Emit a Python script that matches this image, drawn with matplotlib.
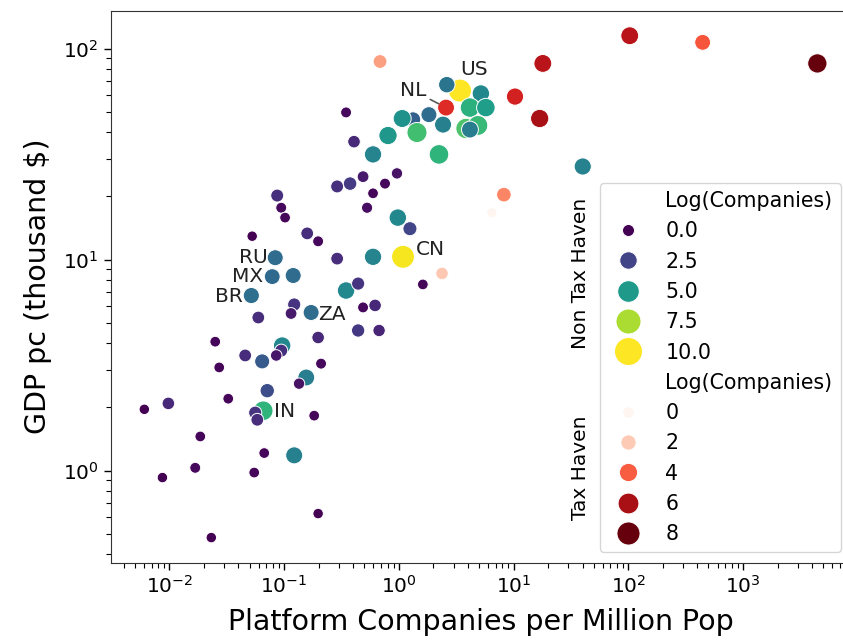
import numpy as np
import matplotlib
matplotlib.use('Agg')
import matplotlib.pyplot as plt
from matplotlib.lines import Line2D
from matplotlib.colors import Normalize

# non tax haven countries: platform companies per million pop, gdp pc, log(companies)
nth_x = [3.41, 2.62, 5.19, 4.17, 5.74, 1.83, 1.33, 1.07, 2.43, 1.44, 3.85, 4.89, 4.17,
         0.805, 0.596, 2.24, 40.1, 0.98, 1.25,
         0.347, 0.407, 0.488, 0.964, 0.758, 0.596, 0.529, 0.290, 0.376, 0.0871, 0.0944,
         0.102, 0.0527, 0.159, 0.198,
         0.0837, 0.0788, 0.120, 0.0518, 0.290, 0.596, 1.088, 1.62, 0.347, 0.442, 0.1225,
         0.115, 0.172, 0.488, 0.621, 0.0596, 0.442, 0.673, 0.0251, 0.198,
         0.0962, 0.0944, 0.0854, 0.0458, 0.0644, 0.0272, 0.210, 0.156, 0.135, 0.0713,
         0.0326, 0.0098, 0.00605, 0.0658, 0.0560, 0.0584, 0.183, 0.0186, 0.0671, 0.1225,
         0.0168, 0.0087, 0.0549, 0.198, 0.0232]
nth_y = [63.2, 67.4, 61.2, 52.5, 52.5, 48.6, 46.1, 46.6, 43.6, 40.0, 41.8, 43.2, 41.3,
         38.7, 31.5, 31.5, 27.6, 15.8, 14.0,
         49.8, 36.2, 24.7, 25.6, 22.9, 20.6, 17.6, 22.2, 22.9, 20.1, 17.6,
         15.8, 12.9, 13.3, 12.2,
         10.2, 8.30, 8.40, 6.75, 10.1, 10.3, 10.3, 7.62, 7.13, 7.69, 6.12,
         5.55, 5.61, 5.93, 6.06, 5.31, 4.61, 4.61, 4.08, 4.27,
         3.91, 3.70, 3.51, 3.51, 3.29, 3.08, 3.21, 2.76, 2.58, 2.39,
         2.19, 2.08, 1.95, 1.92, 1.88, 1.74, 1.82, 1.45, 1.21, 1.18,
         1.03, 0.926, 0.978, 0.625, 0.481]
nth_log = [8.46, 3.86, 4.47, 5.77, 5.16, 3.60, 3.25, 4.81, 4.21, 6.20, 6.38, 6.03, 4.12,
           4.99, 4.38, 5.86, 4.29, 4.47, 2.56,
           1.17, 1.87, 1.52, 1.35, 1.17, 1.09, 1.26, 2.04, 2.30, 2.04, 1.17,
           1.09, 1.00, 1.95, 1.17,
           3.60, 3.51, 3.60, 3.69, 1.95, 4.38, 8.37, 1.09, 4.47, 2.13, 2.13,
           1.52, 3.60, 1.17, 1.87, 1.95, 2.21, 1.78, 1.09, 1.87,
           4.47, 2.04, 1.43, 1.95, 3.08, 1.09, 1.17, 4.12, 1.35, 2.73,
           1.09, 1.87, 1.00, 5.86, 2.13, 1.95, 1.09, 1.09, 1.09, 4.21,
           1.17, 1.00, 1.09, 1.00, 1.00]
nth_code = {0: 'US', 34: 'RU', 35: 'MX', 37: 'BR', 40: 'CN', 46: 'ZA', 67: 'IN'}

# tax havens
th_x = [0.686, 2.58, 18.0, 10.3, 16.9, 103, 445, 4450, 8.24, 6.47, 2.38]
th_y = [86.8, 52.5, 85.0, 59.2, 46.6, 115, 107, 85.0, 20.3, 16.7, 8.59]
th_log = [2.80, 4.88, 5.63, 5.13, 5.96, 5.63, 4.13, 6.80, 3.30, 0.80, 2.05]
th_code = {1: 'NL'}

nth_leg = [0.0, 2.5, 5.0, 7.5, 10.0]
nth_leg_txt = ['0.0', '2.5', '5.0', '7.5', '10.0']
th_leg = [0, 2, 4, 6, 8]
th_leg_txt = ['0', '2', '4', '6', '8']

# label offsets in pixels
offsets = {'US': (14, 21), 'NL': (-33, 17), 'CN': (27, 7), 'RU': (-22, 0),
           'MX': (-25, 0), 'BR': (-22, -1), 'ZA': (21, -2), 'IN': (21, -1)}

viridis = plt.get_cmap('viridis')
reds = plt.get_cmap('Reds')
n_norm = Normalize(min(nth_log), max(nth_log))
t_norm = Normalize(min(th_log), max(th_log))

def n_size(v):
    return 57 + 29.1 * (np.asarray(v) - min(nth_log))

def t_size(v):
    return 52 + 23.5 * (np.asarray(v) - min(th_log))

fig = plt.figure(figsize=(8.43, 6.41), dpi=100)
ax = fig.add_axes([0.1313, 0.1222, 0.8782, 0.8612])
ax.set_xscale('log')
ax.set_yscale('log')

ax.scatter(nth_x, nth_y, s=n_size(nth_log), c=viridis(n_norm(np.array(nth_log))),
           edgecolors='white', linewidths=0.7, zorder=2)
ax.scatter(th_x, th_y, s=t_size(th_log), c=reds(t_norm(np.array(th_log))),
           edgecolors='white', linewidths=0.7, zorder=3)

for i, code in nth_code.items():
    ax.annotate(code, (nth_x[i], nth_y[i]), xytext=offsets[code], textcoords='offset pixels',
                ha='center', va='center', fontsize=14.5, color='#222222', zorder=4)
for i, code in th_code.items():
    ax.annotate(code, (th_x[i], th_y[i]), xytext=offsets[code], textcoords='offset pixels',
                ha='center', va='center', fontsize=14.5, color='#222222', zorder=4,
                arrowprops=dict(arrowstyle='-', color='0.35', lw=1.2, shrinkA=1, shrinkB=6))

ax.set_xlabel('Platform Companies per Million Pop', fontsize=20.5, labelpad=8)
ax.set_ylabel('GDP pc (thousand $)', fontsize=20.5, labelpad=8)
ax.tick_params(which='major', labelsize=14.5, length=5.2, width=1)
ax.tick_params(which='minor', length=3.4, width=0.8)
for sp in ax.spines.values():
    sp.set_color('#333333')

# legend (marker sizes a bit larger than in the plot, as in the original)
blank = Line2D([], [], linestyle='none')
handles = [blank]
labels = ['Log(Companies)']
for v, t in zip(nth_leg, nth_leg_txt):
    handles.append(Line2D([], [], linestyle='none', marker='o',
                          markersize=np.sqrt(75 + 33.3 * v),
                          markerfacecolor=viridis(n_norm(v)), markeredgecolor='white',
                          markeredgewidth=0.7))
    labels.append(t)
handles.append(blank)
labels.append('Log(Companies)')
for v, t in zip(th_leg, th_leg_txt):
    handles.append(Line2D([], [], linestyle='none', marker='o',
                          markersize=np.sqrt(69 + 26 * v),
                          markerfacecolor=reds(t_norm(v)), markeredgecolor='white',
                          markeredgewidth=0.7))
    labels.append(t)
ax.legend(handles, labels, loc='lower right', fontsize=14.8, labelspacing=0.5,
          borderaxespad=0.5, handletextpad=0.8)

fig.text(580 / 843, 1 - 273 / 641, 'Non Tax Haven', rotation=90, ha='center',
         va='center', fontsize=14.5)
fig.text(580 / 843, 1 - 468 / 641, 'Tax Haven', rotation=90, ha='center',
         va='center', fontsize=14.5)

fig.savefig('out.png', dpi=100)
